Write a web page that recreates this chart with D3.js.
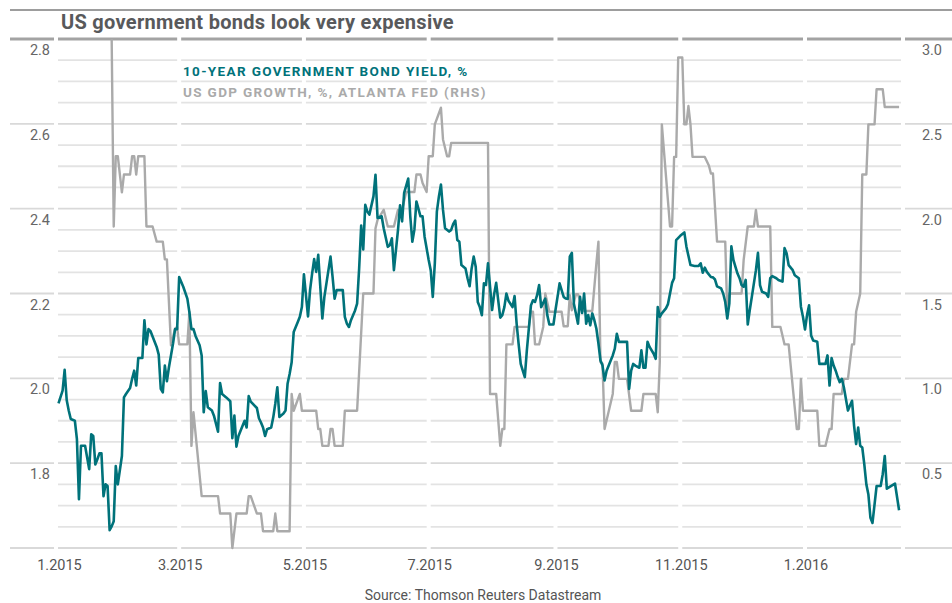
<!DOCTYPE html>
<html><head><meta charset="utf-8">
<script src="https://cdn.jsdelivr.net/npm/d3@7"></script>
<style>body{margin:0;background:#fff}svg{display:block}</style>
</head><body><svg id="c" width="952" height="603"></svg>
<script>
const titleText = "US government bonds look very expensive";
const sourceText = "Source: Thomson Reuters Datastream";
const seriesNames = ["10-YEAR GOVERNMENT BOND YIELD, %", "US GDP GROWTH, %, ATLANTA FED (RHS)"];
const leftTicks = [1.8, 2.0, 2.2, 2.4, 2.6, 2.8];
const rightTicks = [0.5, 1.0, 1.5, 2.0, 2.5, 3.0];
const xTickDates = ["2015-01-01","2015-03-01","2015-05-01","2015-07-01","2015-09-01","2015-11-01","2016-01-01"];

const yieldDates = [
"2015-01-01","2015-01-03","2015-01-04","2015-01-05","2015-01-06","2015-01-07","2015-01-09","2015-01-10","2015-01-11","2015-01-12",
"2015-01-14","2015-01-16","2015-01-17","2015-01-18","2015-01-19","2015-01-20","2015-01-21","2015-01-22","2015-01-23","2015-01-24",
"2015-01-25","2015-01-26","2015-01-27","2015-01-28","2015-01-29","2015-01-30","2015-02-01","2015-02-02","2015-02-03","2015-02-05",
"2015-02-06","2015-02-07","2015-02-08","2015-02-09","2015-02-11","2015-02-12","2015-02-13","2015-02-14","2015-02-15","2015-02-18",
"2015-02-19","2015-02-20","2015-02-21","2015-02-22","2015-02-23","2015-02-24","2015-02-26","2015-02-27","2015-02-28","2015-03-01",
"2015-03-03","2015-03-05","2015-03-06","2015-03-07","2015-03-08","2015-03-09","2015-03-11","2015-03-12","2015-03-13","2015-03-14",
"2015-03-15","2015-03-17","2015-03-18","2015-03-20","2015-03-21","2015-03-22","2015-03-24","2015-03-26","2015-03-27","2015-03-28",
"2015-03-29","2015-03-30","2015-04-01","2015-04-02","2015-04-03","2015-04-04","2015-04-05","2015-04-08","2015-04-09","2015-04-10",
"2015-04-11","2015-04-12","2015-04-13","2015-04-15","2015-04-16","2015-04-17","2015-04-18","2015-04-19","2015-04-21","2015-04-22",
"2015-04-23","2015-04-24","2015-04-25","2015-04-26","2015-04-27","2015-04-28","2015-04-29","2015-04-30","2015-05-01","2015-05-03",
"2015-05-04","2015-05-05","2015-05-06","2015-05-07","2015-05-08","2015-05-10","2015-05-11","2015-05-12","2015-05-14","2015-05-15",
"2015-05-16","2015-05-17","2015-05-20","2015-05-21","2015-05-22","2015-05-23","2015-05-24","2015-05-26","2015-05-27","2015-05-28",
"2015-05-29","2015-05-30","2015-05-31","2015-06-01","2015-06-02","2015-06-04","2015-06-05","2015-06-06","2015-06-08","2015-06-09",
"2015-06-11","2015-06-12","2015-06-13","2015-06-14","2015-06-16","2015-06-17","2015-06-18","2015-06-19","2015-06-21","2015-06-22",
"2015-06-23","2015-06-24","2015-06-25","2015-06-27","2015-06-28","2015-06-29","2015-07-01","2015-07-02","2015-07-03","2015-07-04",
"2015-07-05","2015-07-06","2015-07-07","2015-07-08","2015-07-09","2015-07-11","2015-07-12","2015-07-13","2015-07-14","2015-07-15",
"2015-07-16","2015-07-17","2015-07-19","2015-07-20","2015-07-21","2015-07-22","2015-07-23","2015-07-24","2015-07-25","2015-07-26",
"2015-07-27","2015-07-28","2015-07-29","2015-07-30","2015-07-31","2015-08-01","2015-08-02","2015-08-03","2015-08-05","2015-08-06",
"2015-08-07","2015-08-08","2015-08-09","2015-08-11","2015-08-12","2015-08-13","2015-08-14","2015-08-15","2015-08-16","2015-08-17",
"2015-08-18","2015-08-20","2015-08-21","2015-08-22","2015-08-23","2015-08-24","2015-08-25","2015-08-27","2015-08-28","2015-08-29",
"2015-08-31","2015-09-01","2015-09-02","2015-09-03","2015-09-05","2015-09-06","2015-09-07","2015-09-08","2015-09-09","2015-09-10",
"2015-09-12","2015-09-13","2015-09-14","2015-09-15","2015-09-16","2015-09-17","2015-09-18","2015-09-19","2015-09-20","2015-09-21",
"2015-09-22","2015-09-23","2015-09-24","2015-09-25","2015-09-26","2015-09-28","2015-09-29","2015-09-30","2015-10-01","2015-10-02",
"2015-10-04","2015-10-06","2015-10-07","2015-10-08","2015-10-09","2015-10-10","2015-10-12","2015-10-13","2015-10-14","2015-10-15",
"2015-10-16","2015-10-17","2015-10-19","2015-10-20","2015-10-21","2015-10-22","2015-10-23","2015-10-25","2015-10-26","2015-10-27",
"2015-10-28","2015-10-29","2015-10-30","2015-11-01","2015-11-03","2015-11-04","2015-11-06","2015-11-08","2015-11-10","2015-11-11",
"2015-11-12","2015-11-13","2015-11-14","2015-11-16","2015-11-17","2015-11-18","2015-11-19","2015-11-21","2015-11-22","2015-11-23",
"2015-11-24","2015-11-25","2015-11-26","2015-11-27","2015-11-28","2015-11-29","2015-11-30","2015-12-01","2015-12-02","2015-12-03",
"2015-12-04","2015-12-05","2015-12-06","2015-12-08","2015-12-09","2015-12-10","2015-12-11","2015-12-13","2015-12-14","2015-12-15",
"2015-12-16","2015-12-18","2015-12-19","2015-12-21","2015-12-22","2015-12-23","2015-12-24","2015-12-26","2015-12-27","2015-12-29",
"2015-12-30","2015-12-31","2016-01-01","2016-01-02","2016-01-03","2016-01-04","2016-01-05","2016-01-07","2016-01-08","2016-01-09",
"2016-01-11","2016-01-12","2016-01-13","2016-01-14","2016-01-15","2016-01-16","2016-01-17","2016-01-18","2016-01-19","2016-01-20",
"2016-01-22","2016-01-23","2016-01-24","2016-01-25","2016-01-26","2016-01-27","2016-01-28","2016-01-29","2016-01-30","2016-01-31",
"2016-02-01","2016-02-02","2016-02-03","2016-02-05","2016-02-07","2016-02-08","2016-02-09","2016-02-10","2016-02-12","2016-02-14",
"2016-02-16"];
const yieldValues = [
1.941,1.971,2.020,1.949,1.924,1.904,1.900,1.857,1.715,1.841,
1.841,1.786,1.868,1.864,1.797,1.809,1.823,1.823,1.722,1.750,
1.746,1.642,1.651,1.663,1.793,1.750,1.817,1.955,1.963,1.977,
1.999,2.018,1.983,2.048,2.048,2.137,2.080,2.116,2.111,2.074,
2.056,1.975,1.967,2.030,1.993,2.026,2.082,2.116,2.116,2.239,
2.216,2.188,2.156,2.116,2.116,2.100,2.078,2.054,1.920,1.970,
1.932,1.924,1.912,1.874,1.989,1.963,1.955,1.946,1.859,1.912,
1.839,1.864,1.888,1.900,1.884,1.958,1.945,1.930,1.906,1.896,
1.884,1.864,1.880,1.884,1.908,1.940,1.979,1.909,1.917,1.924,
1.987,2.010,2.038,2.109,2.121,2.133,2.145,2.168,2.245,2.146,
2.208,2.247,2.281,2.251,2.291,2.141,2.192,2.224,2.287,2.240,
2.188,2.208,2.208,2.145,2.129,2.121,2.137,2.160,2.176,2.259,
2.360,2.304,2.409,2.393,2.386,2.429,2.480,2.378,2.382,2.354,
2.310,2.314,2.330,2.255,2.350,2.408,2.370,2.437,2.471,2.382,
2.322,2.350,2.417,2.382,2.382,2.334,2.279,2.255,2.192,2.271,
2.393,2.429,2.457,2.397,2.354,2.346,2.350,2.364,2.372,2.326,
2.322,2.267,2.259,2.236,2.217,2.259,2.287,2.263,2.180,2.168,
2.149,2.224,2.220,2.271,2.216,2.161,2.198,2.225,2.143,2.149,
2.168,2.200,2.183,2.168,2.194,2.129,2.080,2.034,2.018,2.003,
2.066,2.172,2.184,2.180,2.196,2.220,2.168,2.188,2.149,2.127,
2.127,2.161,2.192,2.224,2.192,2.188,2.187,2.287,2.296,2.176,
2.129,2.192,2.154,2.200,2.129,2.149,2.125,2.153,2.137,2.117,
2.082,2.042,2.030,1.995,2.018,2.042,2.054,2.070,2.105,2.086,
2.086,2.086,1.975,2.018,2.034,2.030,2.025,2.066,2.025,2.025,
2.086,2.074,2.058,2.046,2.168,2.145,2.153,2.165,2.175,2.200,
2.225,2.236,2.326,2.336,2.344,2.311,2.267,2.265,2.265,2.271,
2.249,2.261,2.251,2.239,2.238,2.233,2.217,2.212,2.200,2.180,
2.141,2.176,2.311,2.279,2.263,2.247,2.236,2.220,2.216,2.232,
2.127,2.161,2.192,2.255,2.296,2.220,2.204,2.200,2.192,2.236,
2.241,2.236,2.232,2.228,2.307,2.295,2.267,2.255,2.243,2.236,
2.169,2.145,2.115,2.149,2.172,2.101,2.089,2.086,2.034,2.034,
2.034,2.054,1.983,2.048,2.030,2.018,2.003,1.991,1.999,1.979,
1.924,1.936,1.947,1.888,1.845,1.884,1.841,1.837,1.797,1.750,
1.726,1.671,1.659,1.746,1.746,1.774,1.817,1.740,1.746,1.752,
1.689];

const gdpDates = [
"2015-01-27","2015-01-28","2015-01-29","2015-01-30","2015-02-01","2015-02-02","2015-02-05","2015-02-06","2015-02-07","2015-02-08",
"2015-02-09","2015-02-12","2015-02-13","2015-02-16","2015-02-18","2015-02-21","2015-02-22","2015-02-23","2015-02-25","2015-02-27",
"2015-02-28","2015-03-01","2015-03-05","2015-03-06","2015-03-07","2015-03-08","2015-03-12","2015-03-20","2015-03-21","2015-03-26",
"2015-03-27","2015-03-29","2015-04-03","2015-04-04","2015-04-05","2015-04-08","2015-04-10","2015-04-11","2015-04-16","2015-04-17",
"2015-04-18","2015-04-24","2015-04-25","2015-04-26","2015-04-29","2015-04-30","2015-05-07","2015-05-08","2015-05-09","2015-05-10",
"2015-05-13","2015-05-14","2015-05-15","2015-05-16","2015-05-20","2015-05-21","2015-05-27","2015-05-30","2015-06-04","2015-06-05",
"2015-06-06","2015-06-09","2015-06-11","2015-06-14","2015-06-16","2015-06-18","2015-06-20","2015-06-24","2015-06-25","2015-06-27",
"2015-06-28","2015-06-30","2015-07-01","2015-07-03","2015-07-04","2015-07-07","2015-07-08","2015-07-10","2015-07-11","2015-07-12",
"2015-07-30","2015-07-31","2015-08-03","2015-08-05","2015-08-06","2015-08-07","2015-08-08","2015-08-11","2015-08-12","2015-08-19",
"2015-08-20","2015-08-21","2015-08-22","2015-08-24","2015-08-26","2015-08-27","2015-08-29","2015-09-04","2015-09-05","2015-09-07",
"2015-09-08","2015-09-09","2015-09-11","2015-09-12","2015-09-14","2015-09-15","2015-09-19","2015-09-21","2015-09-22","2015-09-23",
"2015-09-24","2015-09-25","2015-09-29","2015-09-30","2015-10-01","2015-10-02","2015-10-06","2015-10-08","2015-10-13","2015-10-14",
"2015-10-20","2015-10-21","2015-10-22","2015-10-23","2015-10-27","2015-10-28","2015-10-29","2015-10-30","2015-10-31","2015-11-02",
"2015-11-03","2015-11-04","2015-11-05","2015-11-06","2015-11-07","2015-11-13","2015-11-15","2015-11-16","2015-11-17","2015-11-19",
"2015-11-23","2015-11-24","2015-11-25","2015-12-01","2015-12-02","2015-12-04","2015-12-07","2015-12-08","2015-12-09","2015-12-15",
"2015-12-16","2015-12-20","2015-12-22","2015-12-24","2015-12-28","2015-12-29","2015-12-30","2015-12-31","2016-01-07","2016-01-08",
"2016-01-11","2016-01-13","2016-01-14","2016-01-15","2016-01-19","2016-01-20","2016-01-22","2016-01-24","2016-01-25","2016-01-26",
"2016-01-28","2016-01-29","2016-01-31","2016-02-01","2016-02-04","2016-02-05","2016-02-08","2016-02-09","2016-02-16"];
const gdpValues = [
3.0,1.895,2.309,2.309,2.096,2.201,2.201,2.309,2.309,2.201,
2.309,2.309,1.895,1.895,1.806,1.806,1.701,1.701,1.194,1.293,
1.303,1.200,1.200,1.392,0.602,0.800,0.306,0.306,0.203,0.203,
0.0,0.203,0.203,0.306,0.306,0.203,0.203,0.099,0.099,0.203,
0.099,0.099,0.908,0.809,0.908,0.809,0.809,0.701,0.701,0.602,
0.602,0.701,0.701,0.602,0.602,0.809,0.809,1.500,1.500,1.885,
1.934,1.993,1.895,1.895,1.993,1.993,2.098,2.098,2.201,2.201,
2.151,2.098,2.309,2.309,2.497,2.595,2.408,2.309,2.309,2.388,
2.388,0.908,0.908,0.602,0.701,0.701,1.200,1.200,1.303,1.303,
1.392,1.392,1.200,1.200,1.303,1.500,1.392,1.392,1.307,1.307,
1.490,1.401,1.496,1.496,1.421,1.397,1.397,1.678,1.806,1.096,
1.086,0.701,0.908,1.096,1.096,0.997,0.997,0.809,0.809,0.908,
0.908,0.800,1.096,2.497,1.895,1.895,2.305,2.305,2.891,2.891,
2.497,2.497,2.605,2.497,2.305,2.305,2.254,2.207,2.207,1.806,
1.806,1.382,1.500,1.500,1.697,1.895,1.895,1.993,1.895,1.895,
1.303,1.303,1.200,1.200,0.701,0.701,0.997,0.809,0.809,0.602,
0.602,0.701,0.701,0.908,0.908,0.997,0.997,1.200,1.200,1.392,
1.500,2.201,2.201,2.497,2.497,2.704,2.704,2.599,2.599];

// ---------- layout ----------
const W = 952, H = 603;
const gridTop = 39, gridBottom = 548;
const frameLeft = 10, plotLineStart = 58, plotLineEnd = 901;
const parse = d3.utcParse("%Y-%m-%d");
const teal = "#00727a", grey = "#aaaaaa";
const font = "Roboto, 'Open Sans', sans-serif";

const x = d3.scaleUtc().domain([parse("2015-01-01"), parse("2016-01-01")]).range([58.5, 805]);
const yL = d3.scaleLinear().domain([1.6, 2.8]).range([gridBottom, gridTop]);
const yR = d3.scaleLinear().domain([0, 3.0]).range([gridBottom, gridTop]);

const svg = d3.select("#c");
svg.append("rect").attr("width", W).attr("height", H).attr("fill", "#fff");

// top rule + title
svg.append("line").attr("x1", frameLeft).attr("x2", W).attr("y1", 10).attr("y2", 10)
  .attr("stroke", "#9d9d9d").attr("stroke-width", 2);
svg.append("text").attr("x", 61).attr("y", 29).text(titleText)
  .attr("font-family", font).attr("font-weight", 700)
  .attr("font-size", 20).attr("letter-spacing", 0.3).attr("fill", "#58595b");

// horizontal gridlines
const gridVals = yL.ticks(24);
const isMajor = v => leftTicks.concat([1.6]).some(t => Math.abs(t - v) < 1e-6);
const g = svg.append("g");
gridVals.forEach(v => {
  const top = Math.abs(v - 2.8) < 1e-6;
  const major = isMajor(v);
  g.append("line")
    .attr("x1", major ? frameLeft : plotLineStart)
    .attr("x2", major ? W : plotLineEnd)
    .attr("y1", yL(v)).attr("y2", yL(v))
    .attr("stroke", top ? "#a3a3a3" : (major ? "#d9d9d9" : "#e3e3e3"))
    .attr("stroke-width", top ? 3 : 1.8);
});

// white vertical separators at the month ticks and plot edges
const tickDates = xTickDates.map(parse);
const gapXs = [56].concat(tickDates.slice(1).map(d => x(d))).concat([903]);
gapXs.forEach(gx => {
  svg.append("rect").attr("x", gx - 2).attr("y", gridTop - 4).attr("width", 4)
    .attr("height", gridBottom - gridTop + 8).attr("fill", "#fff");
});

// series
const gdpData = gdpDates.map((d, i) => ({ date: parse(d), value: gdpValues[i] }));
const yieldData = yieldDates.map((d, i) => ({ date: parse(d), value: yieldValues[i] }));

svg.append("path").datum(gdpData)
  .attr("d", d3.line().x(d => x(d.date)).y(d => yR(d.value)))
  .attr("fill", "none").attr("stroke", grey).attr("stroke-width", 2.4)
  .attr("stroke-linejoin", "round");
svg.append("path").datum(yieldData)
  .attr("d", d3.line().x(d => x(d.date)).y(d => yL(d.value)))
  .attr("fill", "none").attr("stroke", teal).attr("stroke-width", 2.6)
  .attr("stroke-linejoin", "round");

// axis labels
const fmt = d3.format(".1f");
svg.append("g").selectAll("text").data(leftTicks).join("text")
  .attr("x", 50).attr("y", d => yL(d) + 16).attr("text-anchor", "end")
  .attr("font-family", font).attr("font-size", 14.5).attr("fill", "#666")
  .text(fmt);
svg.append("g").selectAll("text").data(rightTicks).join("text")
  .attr("x", 942).attr("y", d => yR(d) + 16).attr("text-anchor", "end")
  .attr("font-family", font).attr("font-size", 14.5).attr("fill", "#666")
  .text(fmt);
const xfmt = d3.utcFormat("%-m.%Y");
svg.append("g").selectAll("text").data(tickDates).join("text")
  .attr("x", d => x(d) + 1).attr("y", 570).attr("text-anchor", "middle")
  .attr("font-family", font).attr("font-size", 14.5).attr("fill", "#555")
  .text(xfmt);

// legend
const legend = svg.append("g").attr("font-family", font).attr("font-weight", 700)
  .attr("font-size", 13.5).attr("letter-spacing", 1.35);
legend.append("text").attr("x", 183).attr("y", 76).attr("fill", teal).text(seriesNames[0]);
legend.append("text").attr("x", 183).attr("y", 97).attr("fill", "#aaaaaa").text(seriesNames[1]);

// source
svg.append("text").attr("x", 483).attr("y", 600).attr("text-anchor", "middle")
  .attr("font-family", font).attr("font-size", 14).attr("fill", "#555")
  .text(sourceText);
</script></body></html>
